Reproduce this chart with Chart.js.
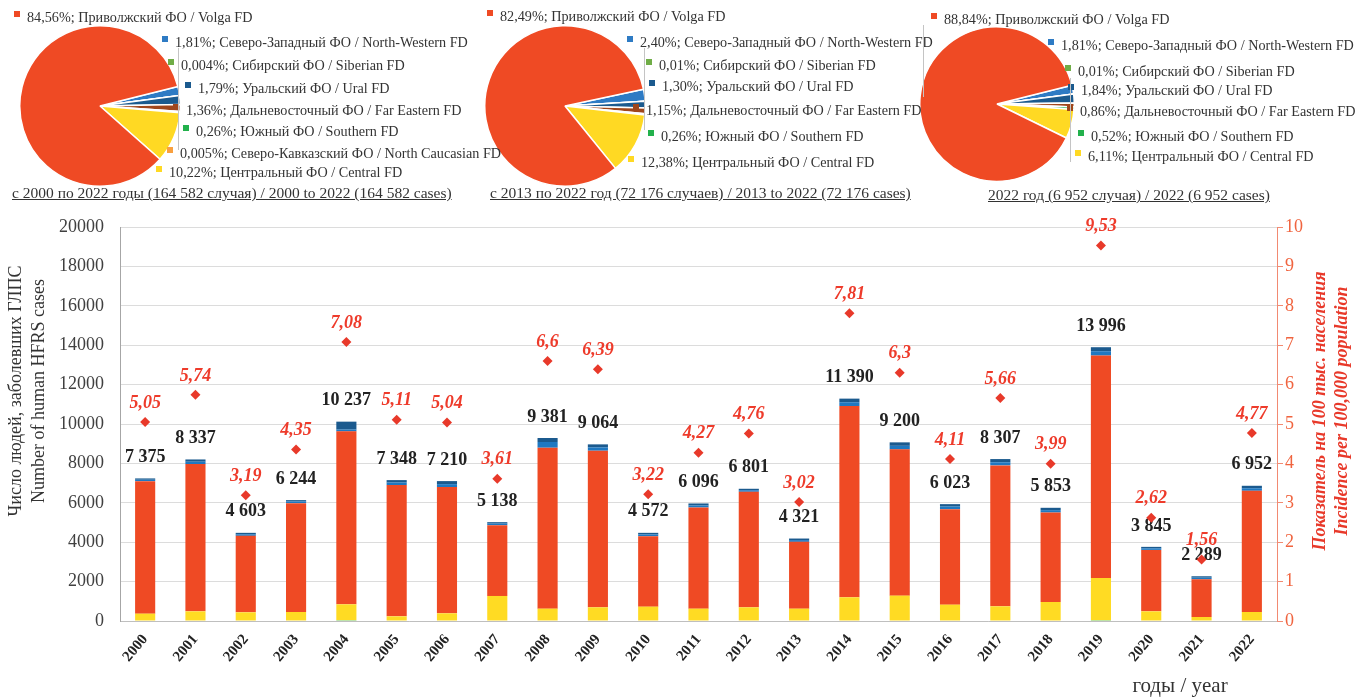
<!DOCTYPE html>
<html>
<head>
<meta charset="utf-8">
<script src="https://cdn.jsdelivr.net/npm/chart.js@4.4.1/dist/chart.umd.min.js"></script>
<style>
body{margin:0;width:1370px;height:699px;overflow:hidden;background:#fff;font-family:"Liberation Serif",serif;position:relative}
#bars{position:absolute;left:0;top:0}
.pie{position:absolute}
.lbl{position:absolute;white-space:nowrap;font-size:14.2px;color:#333;line-height:18px}
.lbl i{display:inline-block;width:6px;height:6px;margin-right:7px;vertical-align:5px}
.ttl{position:absolute;white-space:nowrap;font-size:15.5px;color:#333;text-decoration:underline;line-height:18px}
.lead{position:absolute;width:1px;background:#c4c4c4}
</style>
</head>
<body>
<canvas id="bars" width="1370" height="699"></canvas>
<canvas id="pie1" class="pie" width="162" height="162" style="left:19px;top:25px"></canvas>
<canvas id="pie2" class="pie" width="162" height="162" style="left:484px;top:25px"></canvas>
<canvas id="pie3" class="pie" width="156" height="156" style="left:919px;top:26px"></canvas>
<div id="labels"></div>
<script>
// ---- bar chart data
const years = ['2000','2001','2002','2003','2004','2005','2006','2007','2008','2009','2010','2011',
  '2012','2013','2014','2015','2016','2017','2018','2019','2020','2021','2022'];
const cases = [7375, 8337, 4603, 6244, 10237, 7348, 7210, 5138, 9381, 9064, 4572, 6096,
  6801, 4321, 11390, 9200, 6023, 8307, 5853, 13996, 3845, 2289, 6952];
const incidence = [5.05, 5.74, 3.19, 4.35, 7.08, 5.11, 5.04, 3.61, 6.6, 6.39, 3.22, 4.27,
  4.76, 3.02, 7.81, 6.3, 4.11, 5.66, 3.99, 9.53, 2.62, 1.56, 4.77];
// stacked parts by district
const southern  = [0, 0, 0, 0, 40, 0, 0, 0, 0, 0, 0, 0, 0, 0, 0, 0, 0, 0, 0, 40, 0, 0, 0];
const central   = [373, 490, 440, 458, 807, 237, 390, 1271, 627, 695, 729, 627,
  695, 627, 1203, 1288, 830, 746, 966, 2146, 490, 203, 458];
const volga     = [6727, 7476, 3882, 5525, 8780, 6661, 6407, 3593, 8170, 7949, 3576, 5136,
  5864, 3390, 9712, 7424, 4848, 7152, 4542, 11289, 3120, 1916, 6152];
const northWest = [70, 120, 80, 80, 90, 130, 150, 80, 290, 170, 90, 100,
  80, 90, 190, 180, 130, 160, 120, 220, 80, 80, 130];
const ural      = [67, 114, 73, 73, 402, 124, 155, 73, 201, 152, 80, 103,
  73, 79, 183, 176, 124, 162, 118, 203, 73, 72, 124];

// ---- pie data
const regionsRu = ['Приволжский ФО', 'Северо-Западный ФО', 'Сибирский ФО', 'Уральский ФО',
  'Дальневосточный ФО', 'Южный ФО', 'Северо-Кавказский ФО', 'Центральный ФО'];
const regionsEn = ['Volga FD', 'North-Western FD', 'Siberian FD', 'Ural FD',
  'Far Eastern FD', 'Southern FD', 'North Caucasian FD', 'Central FD'];
const regionColors = ['#EF4A24', '#2E7BC4', '#70AD47', '#1B5A8E', '#A0461B', '#22B14C', '#F9A03F', '#FFD923'];
const share2000_2022 = [84.56, 1.81, 0.004, 1.79, 1.36, 0.26, 0.005, 10.22];
const share2013_2022 = [82.49, 2.40, 0.01, 1.30, 1.15, 0.26, null, 12.38];
const share2022 = [88.84, 1.81, 0.01, 1.84, 0.86, 0.52, null, 6.11];
const pieTitles = [
  'с 2000 по 2022 годы (164 582 случая) / 2000 to 2022 (164 582 cases)',
  'с 2013 по 2022 год (72 176 случаев) / 2013 to 2022 (72 176 cases)',
  '2022 год (6 952 случая) / 2022 (6 952 cases)'
];

const fmtCases = v => String(v).replace(/\B(?=(\d{3})+(?!\d))/g, ' ');
const fmtRate = v => String(v).replace('.', ',');
const fmtPct = v => (v < 0.01 ? v.toFixed(3) : v.toFixed(2)).replace('.', ',') + '%';

// labels over bars and diamonds
const valueLabels = {
  id: 'valueLabels',
  beforeDatasetsDraw(chart) {
    const ctx = chart.ctx;
    const top = chart.getDatasetMeta(4);
    ctx.save();
    ctx.font = 'bold 18px "Liberation Serif"';
    ctx.fillStyle = '#222';
    ctx.textAlign = 'center';
    ctx.textBaseline = 'middle';
    top.data.forEach((bar, i) => {
      ctx.fillText(fmtCases(cases[i]), bar.x, bar.y - 21);
    });
    ctx.restore();
  },
  afterDatasetsDraw(chart) {
    const ctx = chart.ctx;
    const pts = chart.getDatasetMeta(5);
    ctx.save();
    ctx.font = 'italic bold 18px "Liberation Serif"';
    ctx.fillStyle = '#EE3B2B';
    ctx.textAlign = 'center';
    ctx.textBaseline = 'middle';
    pts.data.forEach((p, i) => {
      ctx.fillText(fmtRate(incidence[i]), p.x, p.y - 19);
    });
    ctx.restore();
  },
  afterDraw(chart) {
    const ctx = chart.ctx;
    ctx.save();
    ctx.textAlign = 'center';
    ctx.textBaseline = 'middle';
    // left title
    ctx.fillStyle = '#333';
    ctx.font = '18px "Liberation Serif"';
    ctx.save(); ctx.translate(16, 391); ctx.rotate(-Math.PI / 2);
    ctx.fillText('Число людей, заболевших ГЛПС', 0, 0); ctx.restore();
    ctx.save(); ctx.translate(39, 391); ctx.rotate(-Math.PI / 2);
    ctx.fillText('Number of human HFRS cases', 0, 0); ctx.restore();
    // right title
    ctx.fillStyle = '#E8392A';
    ctx.font = 'italic bold 18px "Liberation Serif"';
    ctx.save(); ctx.translate(1320, 411); ctx.rotate(-Math.PI / 2);
    ctx.fillText('Показатель на 100 тыс. населения', 0, 0); ctx.restore();
    ctx.save(); ctx.translate(1342, 411); ctx.rotate(-Math.PI / 2);
    ctx.fillText('Incidence per 100,000 population', 0, 0); ctx.restore();
    // x title
    ctx.fillStyle = '#333';
    ctx.font = '21px "Liberation Serif"';
    ctx.fillText('годы / year', 1180, 686);
    ctx.restore();
  }
};

const serif = 'Liberation Serif';
new Chart(document.getElementById('bars'), {
  type: 'bar',
  data: {
    labels: years,
    datasets: [
      { label: regionsRu[5], data: southern, backgroundColor: regionColors[5] },
      { label: regionsRu[7], data: central, backgroundColor: '#FFDB23' },
      { label: regionsRu[0], data: volga, backgroundColor: '#EF4A24' },
      { label: regionsRu[1], data: northWest, backgroundColor: '#1F78C1' },
      { label: regionsRu[3], data: ural, backgroundColor: '#1B5A8E' },
      { type: 'line', label: 'incidence', data: incidence, yAxisID: 'y2', showLine: false,
        pointStyle: 'rectRot', pointRadius: 5, pointBackgroundColor: '#E8392A', pointBorderWidth: 0 }
    ]
  },
  options: {
    responsive: false,
    animation: false,
    layout: { padding: { top: 227, left: 0, right: 0, bottom: 0 } },
    plugins: { legend: { display: false }, tooltip: { enabled: false } },
    datasets: { bar: { barPercentage: 0.8, categoryPercentage: 0.5 } },
    scales: {
      x: {
        stacked: true,
        grid: { display: false },
        border: { color: '#bfbfbf' },
        ticks: { minRotation: 50, maxRotation: 50, color: '#222', padding: 2,
          font: { family: serif, size: 15, weight: 'bold' } },
        afterFit: s => { s.height = 78; }
      },
      y: {
        stacked: true, min: 0, max: 20000,
        ticks: { stepSize: 2000, color: '#404040', padding: 16, callback: v => String(v),
          font: { family: serif, size: 18 } },
        grid: { color: '#dcdcdc', drawTicks: false },
        border: { color: '#a6a6a6' },
        afterFit: s => { s.width = 120; }
      },
      y2: {
        position: 'right', min: 0, max: 10,
        ticks: { stepSize: 1, color: '#F0643F', padding: 2, font: { family: serif, size: 18 } },
        grid: { drawOnChartArea: false, color: '#F28A72', tickLength: 6 },
        border: { color: '#F28A72' },
        afterFit: s => { s.width = 93; }
      }
    }
  },
  plugins: [valueLabels]
});

// ---- pies (clockwise from North-Western, Volga last)
const pieOrder = [1, 2, 3, 4, 5, 6, 7, 0];
function makePie(id, shares, rot) {
  new Chart(document.getElementById(id), {
    type: 'pie',
    data: {
      labels: pieOrder.map(i => regionsRu[i]),
      datasets: [{
        data: pieOrder.map(i => shares[i] || 0),
        backgroundColor: pieOrder.map(i => regionColors[i]),
        borderColor: '#fff',
        borderWidth: 1.5
      }]
    },
    options: {
      responsive: false, animation: false, rotation: rot,
      plugins: { legend: { display: false }, tooltip: { enabled: false } }
    }
  });
}
makePie('pie1', share2000_2022, 76);
makePie('pie2', share2013_2022, 78);
makePie('pie3', share2022, 76);

// ---- pie labels (positions: text-left x, centre y)
const labelPos = [
  [[27,17],[175,42],[181,65],[198,88],[186,110],[196,131],[180,153],[169,172]],
  [[500,16],[640,42],[659,65],[662,86],[646,110],[661,136],null,[641,162]],
  [[944,19],[1061,45],[1078,71],[1081,90],[1080,111],[1091,136],null,[1088,156]]
];
const titlePos = [[12,193],[490,193],[988,195]];
const leaders = [[178,48,150],[644,48,130],[923,25,97],[1070,78,162]];
const box = document.getElementById('labels');
[share2000_2022, share2013_2022, share2022].forEach((shares, p) => {
  shares.forEach((v, i) => {
    if (v == null) return;
    const [x, y] = labelPos[p][i];
    const d = document.createElement('div');
    d.className = 'lbl';
    d.style.left = (x - 13) + 'px';
    d.style.top = (y - 9) + 'px';
    d.innerHTML = '<i style="background:' + regionColors[i] + '"></i>' +
      fmtPct(v) + '; ' + regionsRu[i] + ' / ' + regionsEn[i];
    box.appendChild(d);
  });
  const t = document.createElement('div');
  t.className = 'ttl';
  t.style.left = titlePos[p][0] + 'px';
  t.style.top = (titlePos[p][1] - 9) + 'px';
  t.textContent = pieTitles[p];
  box.appendChild(t);
});
leaders.forEach(([x, y0, y1]) => {
  const l = document.createElement('div');
  l.className = 'lead';
  l.style.left = x + 'px'; l.style.top = y0 + 'px'; l.style.height = (y1 - y0) + 'px';
  box.appendChild(l);
});
</script>
</body>
</html>
